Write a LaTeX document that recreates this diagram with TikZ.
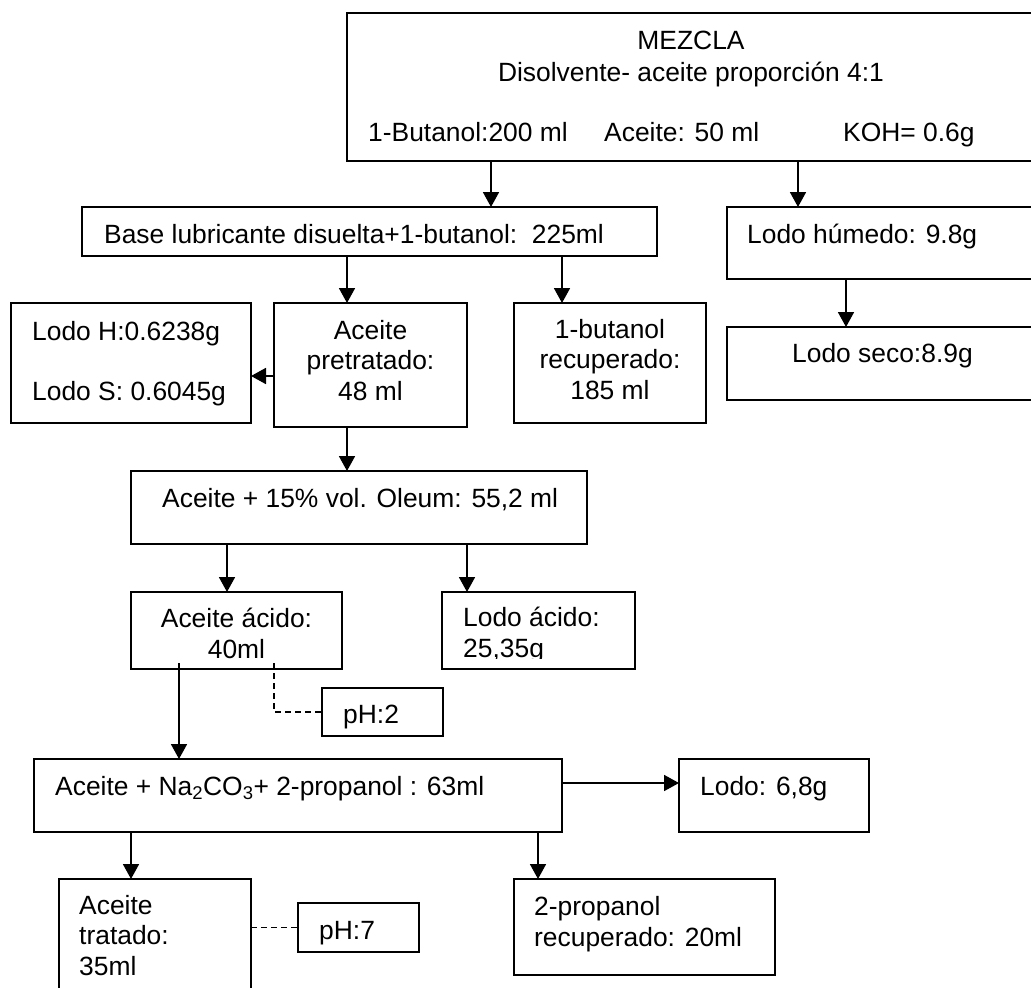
\documentclass[tikz,border=0pt]{standalone}
\usepackage{fontspec}
\setmainfont{Liberation Sans}
\usetikzlibrary{arrows.meta,calc}
\tikzset{
  box/.style={draw, line width=1.8pt, inner sep=0pt, outer sep=0pt},
  lbl/.style={inner sep=0pt, font=\fontsize{26.4}{30.5}\selectfont, anchor=base west, align=left},
  clbl/.style={inner sep=0pt, font=\fontsize{26.4}{30.5}\selectfont, anchor=base, align=center},
  arr/.style={line width=1.8pt, -{Triangle[length=15pt,width=16pt]}},
  dsh/.style={line width=1.8pt, dash pattern=on 6pt off 4pt},
}
\newcommand\mkbox[5]{\node[box, minimum width={(#4-#2)*1pt}, minimum height={(#5-#3)*1pt}] (#1) at ({(#2+#4)/2},{(#3+#5)/2}) {};}
\begin{document}
\begin{tikzpicture}[x=1pt,y=-1pt]
\clip (0,0) rectangle (1031,988);
% boxes
\mkbox{mez}{347}{13}{1045}{161}
\mkbox{base}{82}{207}{657}{256}
\mkbox{humedo}{727}{207}{1045}{279}
\mkbox{seco}{727}{327}{1045}{400}
\mkbox{lodoH}{11}{303}{251}{423}
\mkbox{pretrat}{274}{303}{467}{427}
\mkbox{butrec}{514}{303}{706}{423}
\mkbox{oleum}{131}{471}{587}{544}
\mkbox{acido}{131}{592}{342}{669}
\mkbox{lacido}{442}{592}{635}{669}
\mkbox{ph2}{322}{688}{443}{736}
\mkbox{naco}{34}{759}{562}{832}
\mkbox{lodo68}{679}{759}{869}{832}
\mkbox{tratado}{59}{879}{251}{1010}
\mkbox{ph7}{298}{903}{419}{952}
\mkbox{proprec}{514}{879}{775}{975}
% texts (multi-line nodes are placed at the baseline of their last line)
\node[clbl] (tmez) at (691,49) {MEZCLA};
\node[clbl] (tdis) at (691,81) {Disolvente- aceite proporción 4:1};
\node[lbl] (tbut) at (368,141) {1-Butanol:200 ml};
\node[lbl] (tace) at (604,141) {Aceite: 50 ml};
\node[lbl] (tkoh) at (843,141) {KOH= 0.6g};
\node[lbl] (tbase) at (104,243) {Base lubricante disuelta+1-butanol:\ \ 225ml};
\node[lbl] (thum) at (747,243) {Lodo húmedo: 9.8g};
\node[lbl] (tseco) at (792,362) {Lodo seco:8.9g};
\node[lbl] (tlH) at (32,340) {Lodo H:0.6238g};
\node[lbl] (tlS) at (32,400) {Lodo S: 0.6045g};
\node[clbl] (tpre) at (370.5,400) {Aceite\\pretratado:\\48 ml};
\node[clbl] (tbr) at (610,399) {1-butanol\\recuperado:\\185 ml};
\node[lbl] (tole) at (162,507) {Aceite + 15\% vol. Oleum: 55,2 ml};
\node[clbl] (taci) at (236.5,658) {Aceite ácido:\\40ml};
\begin{scope}
  \clip (442,592) rectangle (635,658);
  \node[lbl] (tlac) at (463,657) {Lodo ácido:\\25,35g};
\end{scope}
\node[lbl] (tph2) at (343,723) {pH:2};
\node[lbl] (tnac) at (55,795) {Aceite + Na\textsubscript{2}CO\textsubscript{3}+ 2-propanol : 63ml};
\node[lbl] (tl68) at (700,795) {Lodo: 6,8g};
\node[lbl] (ttra) at (79,975) {Aceite\\tratado:\\35ml};
\node[lbl] (tph7) at (319,939) {pH:7};
\node[lbl] (tpro) at (534,946) {2-propanol\\recuperado: 20ml};
% connector columns
\coordinate (c1) at (491,0);
\coordinate (c2) at (798,0);
\coordinate (c3) at (347,0);
\coordinate (c4) at (562,0);
\coordinate (c5) at (846,0);
\coordinate (c6) at (0,376);
\coordinate (c8) at (227,0);
\coordinate (c9) at (467,0);
\coordinate (c10) at (179,0);
\coordinate (c11) at (274,0);
\coordinate (c12) at (0,783);
\coordinate (c13) at (131,0);
\coordinate (c14) at (538,0);
% connectors
\draw[arr] (mez.south -| c1) -- (base.north -| c1);
\draw[arr] (mez.south -| c2) -- (humedo.north -| c2);
\draw[arr] (base.south -| c3) -- (pretrat.north -| c3);
\draw[arr] (base.south -| c4) -- (butrec.north -| c4);
\draw[arr] (humedo.south -| c5) -- (seco.north -| c5);
\draw[arr] (pretrat.west |- c6) -- (lodoH.east |- c6);
\draw[arr] (pretrat.south -| c3) -- (oleum.north -| c3);
\draw[arr] (oleum.south -| c8) -- (acido.north -| c8);
\draw[arr] (oleum.south -| c9) -- (lacido.north -| c9);
\draw[arr] ([yshift=6pt]acido.south -| c10) -- (naco.north -| c10);
\draw[dsh] ([yshift=6pt]acido.south -| c11) |- (ph2.west);
\draw[arr] (naco.east |- c12) -- (lodo68.west |- c12);
\draw[arr] (naco.south -| c13) -- (tratado.north -| c13);
\draw[arr] (naco.south -| c14) -- (proprec.north -| c14);
\draw[dsh] (ph7.west -| tratado.east) -- (ph7.west);
\end{tikzpicture}
\end{document}
